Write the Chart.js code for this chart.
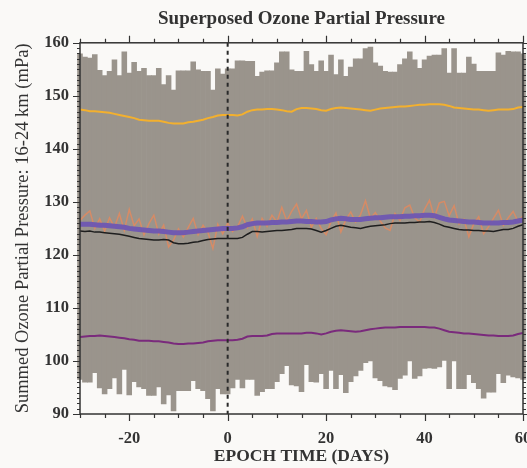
<!DOCTYPE html>
<html><head><meta charset="utf-8">
<script src="https://cdn.jsdelivr.net/npm/chart.js@4/dist/chart.umd.min.js"></script>
<style>html,body{margin:0;padding:0;background:#faf9f7;}#wrap{width:527px;height:468px;}</style>
</head><body><div id="wrap"><canvas id="c" width="527" height="468"></canvas></div>
<script>
const days = [-30,-29,-28,-27,-26,-25,-24,-23,-22,-21,-20,-19,-18,-17,-16,-15,-14,-13,-12,-11,-10,-9,-8,-7,-6,-5,-4,-3,-2,-1,0,1,2,3,4,5,6,7,8,9,10,11,12,13,14,15,16,17,18,19,20,21,22,23,24,25,26,27,28,29,30,31,32,33,34,35,36,37,38,39,40,41,42,43,44,45,46,47,48,49,50,51,52,53,54,55,56,57,58,59,60];
const rangeHigh = [157.9,157.3,157.1,157.8,154.8,153.8,154.6,156.8,153.8,158.3,154.3,156.3,154.6,155.2,153.8,153.8,155.2,152.1,153.8,151.1,154.7,154.7,154.7,156.4,154.9,154.6,154.6,151.1,155.1,154.1,155.1,155.1,156.6,156.6,156.5,156.5,153.7,154.5,154.7,154.7,156.2,158.3,158.3,154.9,154.6,154.6,158.4,155.9,154.6,156.6,154.6,157.7,154.0,156.8,153.7,155.4,157.0,157.0,158.9,159.2,156.2,155.6,154.6,154.5,154.5,155.9,157.0,158.3,156.8,155.2,156.8,157.5,157.7,157.7,158.9,154.3,158.9,154.3,154.3,157.3,156.0,154.6,154.6,154.6,154.6,158.1,157.7,158.4,158.3,158.3,157.9];
const rangeLow = [96.5,96.0,96.0,97.8,94.9,93.8,94.8,96.8,93.8,98.4,93.6,96.1,95.1,94.8,93.5,93.5,95.1,91.9,93.6,90.6,94.4,94.4,94.4,96.3,94.8,94.4,92.9,90.6,94.8,93.8,93.8,94.9,96.5,94.9,96.5,96.5,93.5,94.2,94.8,94.8,96.1,97.6,99.1,95.5,95.3,94.2,99.3,96.1,96.0,97.6,94.8,98.2,94.8,97.4,94.0,96.1,97.2,98.2,99.7,100.0,96.8,96.3,95.3,95.1,94.6,96.7,97.3,100.0,96.7,97.2,98.6,98.7,98.6,98.9,100.1,94.8,100.0,94.8,94.8,97.4,95.9,94.8,93.0,94.1,94.1,97.6,95.9,97.3,97.0,96.8,96.5];
const upperLine = [147.4,147.3,147.1,147.1,147.0,146.9,146.8,146.6,146.4,146.2,146.0,145.8,145.5,145.4,145.3,145.3,145.3,145.1,144.9,144.8,144.8,144.8,145.0,145.1,145.3,145.5,145.8,146.0,146.3,146.4,146.4,146.4,146.3,146.5,147.0,147.3,147.4,147.4,147.5,147.5,147.4,147.3,147.1,147.0,147.5,147.7,147.7,147.6,147.5,147.3,147.2,147.5,147.7,147.8,147.7,147.6,147.5,147.4,147.3,147.2,147.4,147.6,147.7,147.8,147.9,148.0,148.0,148.1,148.2,148.3,148.3,148.4,148.4,148.4,148.3,148.1,147.8,147.7,147.6,147.5,147.4,147.4,147.3,147.2,147.3,147.4,147.4,147.4,147.5,147.8,147.9];
const lowerLine = [104.5,104.6,104.7,104.7,104.8,104.7,104.6,104.5,104.4,104.3,104.1,104.0,103.8,103.8,103.8,103.7,103.7,103.6,103.5,103.3,103.2,103.2,103.3,103.3,103.4,103.5,103.7,103.8,103.9,103.9,103.9,103.9,104.0,104.2,104.6,104.7,104.7,104.7,104.8,105.1,105.2,105.2,105.2,105.2,105.2,105.2,105.3,105.3,105.2,105.0,105.2,105.5,105.7,105.8,105.7,105.6,105.5,105.6,105.8,106.0,106.1,106.2,106.3,106.3,106.3,106.4,106.4,106.4,106.4,106.4,106.4,106.3,106.3,106.1,105.8,105.5,105.4,105.3,105.2,105.2,105.1,105.0,104.9,104.8,104.8,104.7,104.7,104.7,104.8,105.1,105.3];
const meanLine = [125.8,125.8,125.8,125.7,125.6,125.6,125.5,125.4,125.3,125.2,125.0,124.9,124.8,124.7,124.6,124.5,124.5,124.4,124.3,124.2,124.2,124.2,124.3,124.4,124.5,124.6,124.7,124.8,124.9,125.0,125.0,125.0,125.1,125.3,125.7,125.9,126.0,126.0,126.0,126.1,126.1,126.2,126.2,126.3,126.4,126.4,126.3,126.3,126.2,126.2,126.3,126.6,126.8,126.9,126.8,126.7,126.7,126.7,126.8,126.9,127.0,127.0,127.1,127.2,127.2,127.2,127.3,127.3,127.4,127.4,127.5,127.5,127.4,127.1,126.8,126.6,126.5,126.4,126.3,126.2,126.2,126.1,126.0,126.0,126.0,126.0,126.1,126.1,126.2,126.4,126.6];
const medianLine = [124.5,124.4,124.5,124.3,124.3,124.2,124.1,124.0,123.9,123.7,123.5,123.3,123.1,123.0,122.9,122.8,122.8,122.9,122.8,122.3,122.1,122.1,122.2,122.4,122.5,122.7,122.9,123.0,123.1,123.1,123.1,123.1,123.1,123.3,123.9,124.4,124.4,124.3,124.4,124.5,124.6,124.6,124.7,124.8,125.0,125.0,125.0,124.9,124.6,124.3,124.6,125.0,125.4,125.6,125.4,125.2,125.1,125.0,125.2,125.4,125.5,125.6,125.7,125.9,126.0,126.0,126.0,126.1,126.1,126.2,126.2,126.3,126.1,125.8,125.4,125.2,125.0,124.8,124.7,124.7,124.6,124.6,124.5,124.5,124.4,124.6,124.8,124.8,125.0,125.4,125.7];
const dailyLine = [126.5,127.5,128.3,125.0,126.8,124.5,127.0,125.2,127.8,124.6,128.6,125.5,126.8,123.8,125.9,127.5,123.9,125.6,121.5,122.8,124.9,123.4,125.2,126.9,123.8,125.6,124.2,121.2,125.8,124.0,126.0,124.4,125.3,127.3,125.1,126.8,123.5,126.9,125.4,127.5,126.2,129.0,126.4,128.2,129.6,126.8,128.4,125.2,126.9,125.0,123.8,126.3,127.9,124.3,126.6,128.1,126.2,127.6,130.2,126.9,128.0,126.4,125.1,124.6,127.8,126.5,128.9,129.4,127.0,126.2,128.6,130.3,127.1,129.8,130.1,127.4,129.3,125.8,126.7,123.4,125.9,127.2,124.0,125.3,126.9,128.4,125.6,127.0,128.2,126.3,127.4];

const SERIF = '"Liberation Serif", "DejaVu Serif", serif';
const pts = arr => days.map((d, i) => ({x: d, y: arr[i]}));

const framePlugin = {
  id: 'frame',
  afterDatasetsDraw(chart) {
    const {ctx, chartArea: a, scales: {x, y}} = chart;
    ctx.save();
    const x0 = x.getPixelForValue(0);
    ctx.strokeStyle = '#2a2a2a'; ctx.lineWidth = 2; ctx.setLineDash([4, 4]);
    ctx.beginPath(); ctx.moveTo(x0, a.top); ctx.lineTo(x0, a.bottom); ctx.stroke();
    ctx.setLineDash([]);
    ctx.strokeStyle = '#333'; ctx.lineWidth = 1.5;
    ctx.strokeRect(a.left, a.top, a.right - a.left, a.bottom - a.top);
    ctx.lineWidth = 1.2;
    ctx.beginPath();
    for (let v = x.min; v <= x.max; v += 5) {
      const px = Math.round(x.getPixelForValue(v)) + 0.5;
      const len = v % 20 === 0 ? 7 : 4;
      ctx.moveTo(px, a.bottom); ctx.lineTo(px, a.bottom + len);
      ctx.moveTo(px, a.top); ctx.lineTo(px, a.top - len);
    }
    for (let v = y.min; v <= y.max; v += 1) {
      const py = Math.round(y.getPixelForValue(v)) + 0.5;
      const major = v % 10 === 0;
      const len = major ? 7 : 3;
      ctx.moveTo(a.left, py); ctx.lineTo(a.left - len, py);
      ctx.moveTo(a.right, py); ctx.lineTo(a.right + len, py);
    }
    ctx.stroke();
    ctx.restore();
  }
};

new Chart(document.getElementById('c'), {
  type: 'bar',
  data: {
    datasets: [
      {type: 'line', data: pts(medianLine), borderColor: '#1e1e1e', borderWidth: 1.5, pointRadius: 0, order: 1},
      {type: 'line', data: pts(meanLine), borderColor: 'rgba(110,86,178,0.95)', borderWidth: 5, pointRadius: 0, order: 2},
      {type: 'line', data: pts(dailyLine), borderColor: 'rgba(240,135,85,0.7)', borderWidth: 1.5, pointRadius: 0, order: 3},
      {type: 'line', data: pts(upperLine), borderColor: '#f3b02e', borderWidth: 2, pointRadius: 0, order: 4},
      {type: 'line', data: pts(lowerLine), borderColor: '#7a2a7c', borderWidth: 2, pointRadius: 0, order: 4},
      {type: 'bar', data: days.map((d, i) => ({x: d, y: [rangeLow[i], rangeHigh[i]]})),
       backgroundColor: '#9a948c', borderWidth: 0, barPercentage: 1, categoryPercentage: 1,
       grouped: false, order: 10, clip: {left: 3, right: 4, top: 0, bottom: 0}}
    ]
  },
  options: {
    responsive: false, animation: false, devicePixelRatio: 1,
    layout: {padding: {left: 0, right: 4, top: 0, bottom: 0}},
    plugins: {
      legend: {display: false}, tooltip: {enabled: false},
      title: {display: true, fullSize: false, text: 'Superposed Ozone Partial Pressure', color: '#333',
        font: {family: SERIF, size: 19, weight: 'bold'}, padding: {top: 8, bottom: 12}}
    },
    scales: {
      x: {type: 'linear', min: -30, max: 60, offset: false,
        grid: {display: false, drawTicks: false}, border: {display: false},
        ticks: {stepSize: 20, includeBounds: false, color: '#333', padding: 15, maxRotation: 0,
          font: {family: SERIF, size: 16.5, weight: 'bold'}},
        title: {display: true, text: 'EPOCH TIME (DAYS)', color: '#333', padding: {top: 1, bottom: 1},
          font: {family: SERIF, size: 17.5, weight: 'bold'}},
        afterFit(s) { s.height = 54; s.paddingLeft = 0; s.paddingRight = 0; }
      },
      y: {min: 90, max: 160,
        grid: {display: false, drawTicks: false}, border: {display: false},
        ticks: {stepSize: 10, color: '#333', padding: 11, font: {family: SERIF, size: 16.5, weight: 'bold'}},
        title: {display: true, text: 'Summed Ozone Partial Pressure: 16-24 km (mPa)', color: '#333',
          padding: {top: 12, bottom: 0}, font: {family: SERIF, size: 18.5}},
        afterFit(s) { s.width = 80; s.paddingTop = 0; s.paddingBottom = 0; }
      }
    }
  },
  plugins: [framePlugin]
});
</script></body></html>
